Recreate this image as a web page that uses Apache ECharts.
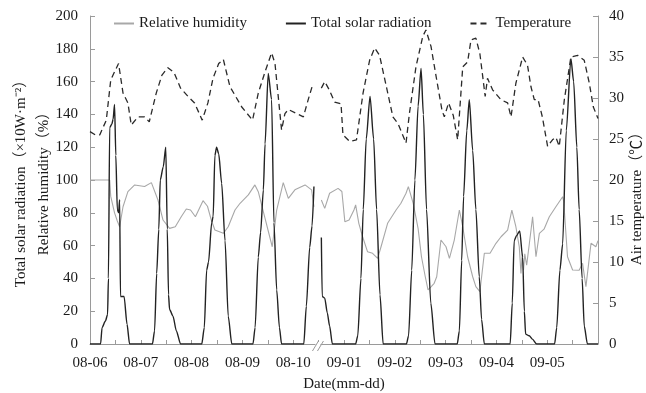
<!DOCTYPE html>
<html>
<head>
<meta charset="utf-8">
<script src="https://cdn.jsdelivr.net/npm/echarts@6/dist/echarts.min.js"></script>
<style>
html,body{margin:0;padding:0;background:#fff;}
#c{width:646px;height:393px;}
</style>
</head>
<body>
<div id="c"></div>
<script>
// ---- data (x = hours since 08-06 00:00 on the broken time axis) ----
const dateLabels = ['08-06','08-07','08-08','08-09','08-10','09-01','09-02','09-03','09-04','09-05'];
const breakHour = 107.7;

const relativeHumidity = [
[0,100],[9.3,100],[9.8,90],[11.6,80],[12.9,75],[14,71.5],[15.6,83.7],[17.9,92.9],[21.1,97],[25.8,96],[29,98.4],[32.1,87.8],[34.5,75.6],[37.6,70.5],[40.3,71.5],[43.1,77.6],[45.5,82.3],[47.5,81.7],[49.8,77.6],[53.4,87.4],[55.5,84],[57.3,75.6],[59,69.5],[63,67.5],[65.3,71.5],[68.5,81.7],[70.9,85.8],[74.8,90.9],[77.9,97],[79.5,92.9],[82.7,76.6],[86.1,59.3],[88.2,81.7],[91.3,98.4],[92.4,94],[93.7,88.8],[96.8,94],[101.6,97],[104.7,94],[105.8,83.7],
[breakHour,'-'],
[109.3,87.8],[110.9,82.7],[113.2,91.9],[117.2,94.9],[119,93],[120.4,74.6],[122.4,75.6],[124.7,81.7],[125.5,84.8],[127,73.6],[128.8,65.4],[131.1,56.3],[133.5,55.3],[135.9,52.2],[137.5,59.3],[140.6,73.6],[144.6,81.7],[146.9,85.8],[149.3,91.9],[150.4,96],[152.7,85.8],[155,70.5],[156.6,53.2],[158.4,41],[159.7,33],[161.2,35],[162.6,37],[163.8,41],[165.8,63.4],[168.2,59.3],[169.8,52.2],[172.1,63.4],[174.5,81.7],[176.1,71.5],[178.4,53.2],[180.8,41],[182.3,35],[184.2,31.9],[186.3,55.3],[189,55.3],[191.8,61.4],[194.2,65.4],[197.3,69.5],[199.3,81.7],[201.2,71.5],[202.8,59.3],[203.6,43],[204.2,55],[204.8,45],[205.4,55],[206.3,48],[208.4,70],[209.1,77.6],[210.7,53.2],[212.3,67.5],[214.5,70],[217,77.6],[220.1,83.7],[223.3,89.8],[223.8,87],[225.6,53.2],[228,45.1],[231.1,45],[232.7,49.2],[234.3,35],[236.7,61.4],[239,59.3],[240,63]
];

const totalSolarRadiation = [
[0,0],[5,0],[5.7,10],[7.3,14],[8.3,18],[8.7,40],[9.3,132],[10.3,134],[10.9,137],[11.6,146],[12.2,115],[12.9,82],[13.5,80],[14,88],[14.4,29],[16.1,29],[17.5,12],[18.7,0],
[29.5,0],[30.5,8],[31.5,43],[32.5,70],[33.2,100],[34.6,108],[35.8,120],[36.5,70],[37.1,30],[37.6,21],[39.2,17],[40.8,8],[42.8,0],
[52.8,0],[54,10],[55.1,45],[56,50],[57.5,74],[58.2,78],[59,115],[59.8,120],[60.8,116],[62.2,98],[63.8,63],[65.3,17],[67,0],
[77,0],[78,10],[79.5,53],[80.6,68],[81.9,94],[82.7,122],[84.2,165],[85.8,149],[86.9,74],[88.2,33],[89.5,10],[90.5,0],
[101,0],[102.2,23],[103.8,59],[104.9,72],[105.8,96],
[breakHour,'-'],
[109.3,65],[109.7,29],[110.9,28],[112.1,19],[113.2,11],[114.5,0],
[125.5,0],[126.5,5],[128,40],[129.1,82],[130.5,125],[132.3,151],[134,125],[135.4,82],[137,30],[138.5,0],
[149.5,0],[150.5,5],[152,45],[153.5,100],[155,145],[156.4,168],[157.5,140],[159,82],[161,25],[163,0],
[173.5,0],[174.5,8],[175.6,51],[176.5,90],[178,130],[179.2,149],[180.8,118],[182.3,82],[183.9,41],[185,15],[186.3,0],
[198.5,0],[199.5,25],[200.4,63],[201.5,66],[203,69],[204.4,53],[205.2,20],[205.8,6],[207.5,5],[209,3],[211,0],
[219.5,0],[220.5,10],[222,45],[223.3,61],[225,130],[227.2,174],[228.5,160],[230,120],[231.1,82],[232.5,40],[233.5,11],[235,0],[240,0]
];

const temperature = [
[0,25.9],[2.5,25.5],[4.6,25.5],[7.7,27.3],[9.8,32.2],[11.6,33.2],[13.5,34.2],[14.3,34.0],[15.6,30.6],[17.9,29.4],[19.5,26.7],[22.7,27.7],[25.8,27.7],[28,27.1],[31.3,30.6],[34,32.8],[36.8,33.7],[39.7,33.1],[42.8,31.2],[46.3,30.2],[49.4,29.4],[53,27.3],[55.7,29.4],[58.1,32.4],[60.8,34.2],[63,34.7],[66.1,31.4],[71.7,28.9],[76.8,27.3],[79.5,30.6],[82.7,33.2],[85.8,35.5],[87.4,34.2],[90.5,26.1],[92.1,28.1],[93.7,28.6],[100.8,27.7],[103.1,29.8],[105.4,31.8],
[breakHour,'-'],
[109.3,31.2],[110.9,32],[113,31],[115.6,29.5],[118.6,29.3],[119.5,25.5],[122.7,24.7],[125.9,24.9],[129,30.6],[132.1,34.6],[134.5,36.1],[136.8,35.2],[140,31.4],[143.1,27.7],[145.5,26.9],[149.3,24.5],[150.9,28.1],[154,33.8],[157.2,37.5],[158.7,38.3],[161.1,36.3],[163.8,32.2],[166.3,28.5],[167.4,27.7],[169.4,29.4],[171.6,27.9],[173.7,24.9],[176.1,33.8],[178.4,34.4],[180,37.1],[182.3,37.3],[184.2,35.4],[186.7,30.2],[187.8,32.4],[190.2,31],[194.1,29.8],[197.3,29.4],[198.9,27.7],[201.2,31.8],[204.4,35],[206.7,34],[208.3,31.4],[209.9,29.8],[211.7,29.8],[213.7,27.7],[216.2,24.1],[218.5,24.9],[220.1,25.2],[221.7,24.1],[224.1,29.8],[227.2,35],[230.4,35.2],[233.5,34.6],[235.9,31.8],[237.8,28.9],[240,27.5]
];

// ---- chart ----
const FONT = '"Liberation Serif", "Times New Roman", "Noto Sans CJK SC", serif';
const AXIS_COLOR = '#9a9a9a';
const TEXT_COLOR = '#1a1a1a';

const chart = echarts.init(document.getElementById('c'), null, {renderer: 'canvas'});

chart.setOption({
  animation: false,
  backgroundColor: '#fff',
  textStyle: {fontFamily: FONT, color: TEXT_COLOR},
  grid: {left: 90, right: 48, top: 16, bottom: 49, containLabel: false, outerBoundsMode: 'none'},
  legend: {
    left: 108, top: 11,
    itemWidth: 20, itemHeight: 10, itemGap: 38,
    itemStyle: {opacity: 0},
    textStyle: {fontFamily: FONT, fontSize: 15, color: TEXT_COLOR},
    data: ['Relative humidity', 'Total solar radiation', 'Temperature']
  },
  xAxis: {
    type: 'value', min: 0, max: 240, interval: 12,
    name: 'Date(mm-dd)', nameLocation: 'middle', nameGap: 33, nameMoveOverlap: false,
    nameTextStyle: {fontFamily: FONT, fontSize: 15, color: TEXT_COLOR},
    axisLine: {show: true, lineStyle: {color: AXIS_COLOR, width: 1}},
    axisTick: {show: true, inside: true, length: 4, lineStyle: {color: AXIS_COLOR}},
    splitLine: {show: false},
    axisLabel: {
      fontFamily: FONT, fontSize: 15, color: TEXT_COLOR, margin: 12,
      showMaxLabel: true, showMinLabel: true,
      formatter: function (v) {
        if (v % 24 !== 0) return '';
        const i = v / 24;
        return dateLabels[i] !== undefined ? dateLabels[i] : '';
      }
    }
  },
  yAxis: [
    {
      type: 'value', min: 0, max: 200, interval: 20, position: 'left',
      name: 'Total solar radiation（×10W·m⁻²）\nRelative humidity（%）',
      nameLocation: 'middle', nameRotate: 90, nameGap: 34, nameMoveOverlap: false,
      nameTextStyle: {fontFamily: FONT, fontSize: 15, color: TEXT_COLOR, lineHeight: 23},
      axisLine: {show: true, lineStyle: {color: AXIS_COLOR, width: 1}},
      axisTick: {show: true, inside: true, length: 5, lineStyle: {color: AXIS_COLOR}},
      splitLine: {show: false},
      axisLabel: {fontFamily: FONT, fontSize: 15, color: TEXT_COLOR, margin: 12}
    },
    {
      type: 'value', min: 0, max: 40, interval: 5, position: 'right',
      name: 'Air temperature（℃）',
      nameLocation: 'middle', nameRotate: 90, nameGap: 32, nameMoveOverlap: false,
      nameTextStyle: {fontFamily: FONT, fontSize: 15, color: TEXT_COLOR, padding: [0, 30, 0, 0]},
      axisLine: {show: true, lineStyle: {color: AXIS_COLOR, width: 1}},
      axisTick: {show: true, inside: true, length: 5, lineStyle: {color: AXIS_COLOR}},
      splitLine: {show: false},
      axisLabel: {fontFamily: FONT, fontSize: 15, color: TEXT_COLOR, margin: 11}
    }
  ],
  series: [
    {
      name: 'Relative humidity', type: 'line', yAxisIndex: 0,
      data: relativeHumidity, symbol: 'none', connectNulls: false,
      lineStyle: {color: '#a8a8a8', width: 1.1},
      itemStyle: {color: '#a8a8a8'}
    },
    {
      name: 'Total solar radiation', type: 'line', yAxisIndex: 0,
      data: totalSolarRadiation, symbol: 'none', connectNulls: false,
      smooth: 0.25, smoothMonotone: 'x',
      lineStyle: {color: '#222', width: 1.4},
      itemStyle: {color: '#222'}
    },
    {
      name: 'Temperature', type: 'line', yAxisIndex: 1,
      data: temperature, symbol: 'none', connectNulls: false,
      lineStyle: {color: '#2a2a2a', width: 1.3, type: [6, 4]},
      itemStyle: {color: '#2a2a2a'}
    }
  ]
});

// axis-break marker on the x axis
const bx = chart.convertToPixel({xAxisIndex: 0}, breakHour);
const by = chart.convertToPixel({yAxisIndex: 0}, 0);
chart.setOption({
  graphic: [
    {type: 'rect', shape: {x: bx - 2.5, y: by - 2, width: 5, height: 4}, style: {fill: '#fff'}, z: 100},
    {type: 'line', shape: {x1: bx - 5.5, y1: by + 7, x2: bx + 0.5, y2: by - 3}, style: {stroke: AXIS_COLOR, lineWidth: 1}, z: 101},
    {type: 'line', shape: {x1: bx - 0.5, y1: by + 7, x2: bx + 5.5, y2: by - 3}, style: {stroke: AXIS_COLOR, lineWidth: 1}, z: 101}
  ]
});
</script>
</body>
</html>
